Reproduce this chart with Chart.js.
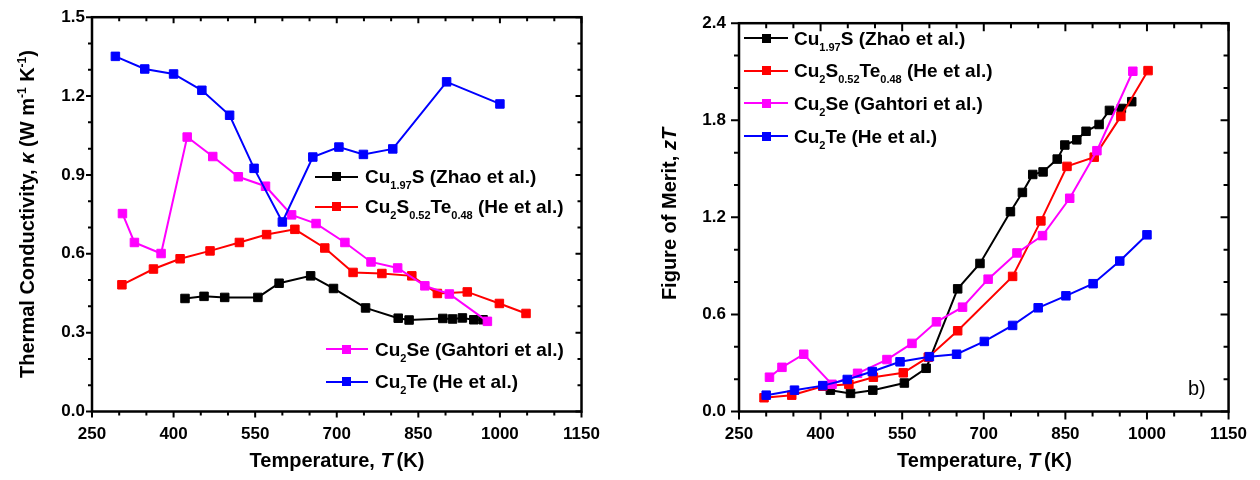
<!DOCTYPE html>
<html>
<head>
<meta charset="utf-8">
<script src="https://cdn.jsdelivr.net/npm/chart.js@4.4.0/dist/chart.umd.min.js"></script>
<style>
  body { margin: 0; background: #fff; }
  #page { position: relative; width: 1260px; height: 480px; overflow: hidden;
          font-family: 'Liberation Sans', Arial, sans-serif; color: #000; }
  .panel { position: absolute; top: 0; width: 630px; height: 480px; }
  .txt { position: absolute; white-space: nowrap; line-height: 1; font-weight: bold; }
  .sb { font-size: 11px; position: relative; top: 6px; }
  .sp { font-size: 12px; position: relative; top: -8px; }
  .tx { font-size: 20px; width: 400px; text-align: center; }
  .ty { font-size: 20px; text-align: center; transform: rotate(-90deg); }
  .leg { font-size: 19px; }
  .sym { position: absolute; height: 2px; }
  .sym b { position: absolute; width: 9px; height: 9px; left: 50%; top: 50%; margin: -4.5px 0 0 -4.5px; }
</style>
</head>
<body>
<div id="page">
  <div class="panel" style="left:0"><canvas id="kappaChart" width="630" height="480"></canvas></div>
  <div class="panel" style="left:630px"><canvas id="ztChart" width="630" height="480"></canvas></div>
</div>
<script>
// Panel (a): thermal conductivity vs temperature
const kTempCu197S = [421, 456, 494, 555, 594, 652, 694, 753, 813, 833, 895, 913, 931, 952, 969];
const kappaCu197S = [0.430, 0.438, 0.434, 0.434, 0.488, 0.516, 0.468, 0.394, 0.355, 0.348, 0.354, 0.352, 0.356, 0.349, 0.349];
const kTempCu2STe = [305, 363, 412, 467, 521, 571, 623, 678, 730, 783, 838, 885, 940, 999, 1048];
const kappaCu2STe = [0.482, 0.542, 0.581, 0.611, 0.643, 0.673, 0.693, 0.622, 0.529, 0.525, 0.516, 0.449, 0.455, 0.411, 0.373];
const kTempCu2Se = [306, 328, 377, 425, 472, 519, 569, 617, 662, 715, 763, 812, 862, 907, 977];
const kappaCu2Se = [0.753, 0.643, 0.601, 1.044, 0.970, 0.893, 0.857, 0.748, 0.715, 0.643, 0.569, 0.546, 0.478, 0.447, 0.343];
const kTempCu2Te = [293, 347, 400, 452, 503, 548, 600, 656, 704, 749, 803, 902, 1000];
const kappaCu2Te = [1.351, 1.303, 1.284, 1.222, 1.127, 0.925, 0.721, 0.968, 1.006, 0.978, 0.999, 1.254, 1.170];

// Panel (b): figure of merit zT vs temperature
const zTempCu197S = [418, 455, 496, 554, 594, 652, 693, 749, 771, 790, 809, 835, 849, 871, 888, 912, 931, 953, 972];
const ztCu197S = [0.132, 0.112, 0.132, 0.176, 0.267, 0.758, 0.915, 1.235, 1.354, 1.465, 1.481, 1.560, 1.647, 1.679, 1.732, 1.774, 1.861, 1.873, 1.915];
const zTempCu2STe = [296, 347, 404, 452, 497, 552, 598, 652, 753, 805, 853, 903, 952, 1002];
const ztCu2STe = [0.085, 0.101, 0.156, 0.168, 0.212, 0.239, 0.336, 0.499, 0.835, 1.178, 1.515, 1.572, 1.824, 2.107];
const zTempCu2Se = [306, 329, 369, 421, 468, 522, 568, 613, 661, 708, 761, 808, 858, 908, 974];
const ztCu2Se = [0.212, 0.273, 0.354, 0.168, 0.236, 0.321, 0.421, 0.554, 0.645, 0.818, 0.980, 1.087, 1.318, 1.612, 2.103];
const zTempCu2Te = [300, 352, 404, 449, 495, 546, 600, 650, 701, 753, 800, 851, 901, 950, 1000];
const ztCu2Te = [0.101, 0.132, 0.160, 0.198, 0.247, 0.307, 0.339, 0.354, 0.433, 0.532, 0.641, 0.715, 0.790, 0.930, 1.092];

const seriesNames = [
    'Cu<span class="sb">1.97</span>S (Zhao et al.)',
    'Cu<span class="sb">2</span>S<span class="sb">0.52</span>Te<span class="sb">0.48</span> (He et al.)',
    'Cu<span class="sb">2</span>Se (Gahtori et al.)',
    'Cu<span class="sb">2</span>Te (He et al.)'
];
const seriesColors = ['#000000', '#ff0000', '#ff00ff', '#0000ff'];

const FONT = "'Liberation Sans', Arial, sans-serif";

function points(xs, ys) {
    return xs.map((x, i) => ({ x: x, y: ys[i] }));
}

function makeDataset(i, xs, ys) {
    return {
        data: points(xs, ys),
        borderColor: seriesColors[i],
        backgroundColor: seriesColors[i],
        borderWidth: 2,
        pointStyle: 'rect',
        pointRadius: 6,
        pointHoverRadius: 6,
        pointBorderWidth: 1,
        showLine: true,
        order: 3 - i
    };
}

// Box frame, with outward ticks on bottom/left and inward ticks on top/right.
const frameTicks = {
    id: 'frameTicks',
    afterDatasetsDraw(chart, args, opts) {
        const ctx = chart.ctx;
        const a = chart.chartArea;
        const x = chart.scales.x, y = chart.scales.y;
        ctx.save();
        ctx.strokeStyle = '#000';
        ctx.lineWidth = 2;
        ctx.beginPath();
        x.ticks.forEach(t => {
            const px = x.getPixelForValue(t.value);
            const len = t.label !== '' ? opts.major : opts.minor;
            ctx.moveTo(px, a.bottom); ctx.lineTo(px, a.bottom + len);
            ctx.moveTo(px, a.top); ctx.lineTo(px, a.top + len);
        });
        y.ticks.forEach(t => {
            const py = y.getPixelForValue(t.value);
            const len = t.label !== '' ? opts.major : opts.minor;
            ctx.moveTo(a.left - len, py); ctx.lineTo(a.left, py);
            ctx.moveTo(a.right - len, py); ctx.lineTo(a.right, py);
        });
        ctx.stroke();
        ctx.lineWidth = 2.5;
        ctx.strokeRect(a.left, a.top, a.right - a.left, a.bottom - a.top);
        ctx.restore();
    }
};

function makeChart(id, datasets, yMax, yStep, yEvery, yWidth, yPad, rightPad, tickLen) {
    new Chart(document.getElementById(id), {
        type: 'scatter',
        data: { datasets: datasets },
        plugins: [frameTicks],
        options: {
            responsive: false,
            animation: false,
            events: [],
            layout: { padding: { left: 0, right: rightPad, top: 16, bottom: 0 } },
            scales: {
                x: {
                    type: 'linear',
                    min: 250,
                    max: 1150,
                    grid: { display: false, drawTicks: false },
                    border: { display: false },
                    afterFit: (s) => { s.height = 68.5; },
                    ticks: {
                        stepSize: 50,
                        autoSkip: false,
                        maxRotation: 0,
                        padding: 13,
                        color: '#000',
                        font: { family: FONT, size: 17, weight: 'bold' },
                        callback: (v) => ((v - 250) % 150 === 0 ? String(v) : '')
                    }
                },
                y: {
                    min: 0,
                    max: yMax,
                    grid: { display: false, drawTicks: false },
                    border: { display: false },
                    afterFit: (s) => { s.width = yWidth; },
                    ticks: {
                        stepSize: yStep,
                        autoSkip: false,
                        padding: yPad,
                        color: '#000',
                        font: { family: FONT, size: 17, weight: 'bold' },
                        callback: (v) => {
                            const k = Math.round(v * 10);
                            return k % yEvery === 0 ? (k / 10).toFixed(1) : '';
                        }
                    }
                }
            },
            plugins: {
                legend: { display: false },
                tooltip: { enabled: false },
                frameTicks: tickLen
            }
        }
    });
}

makeChart('kappaChart', [
    makeDataset(0, kTempCu197S, kappaCu197S),
    makeDataset(1, kTempCu2STe, kappaCu2STe),
    makeDataset(2, kTempCu2Se, kappaCu2Se),
    makeDataset(3, kTempCu2Te, kappaCu2Te)
], 1.5, 0.1, 3, 92, 7, 48.5, { major: 6, minor: 4 });

makeChart('ztChart', [
    makeDataset(0, zTempCu197S, ztCu197S),
    makeDataset(1, zTempCu2STe, ztCu2STe),
    makeDataset(2, zTempCu2Se, ztCu2Se),
    makeDataset(3, zTempCu2Te, ztCu2Te)
], 2.4, 0.2, 6, 109, 13, 30, { major: 8, minor: 5 });

// Text overlays: axis titles, legends, panel label
const page = document.getElementById('page');

function addText(html, cls, left, top, width) {
    const d = document.createElement('div');
    d.className = 'txt ' + cls;
    d.innerHTML = html;
    d.style.left = left + 'px';
    d.style.top = top + 'px';
    if (width) d.style.width = width + 'px';
    page.appendChild(d);
    return d;
}

addText('Temperature,&nbsp;<i>T</i>&thinsp;(K)', 'tx', 337 - 200, 450);
addText('Temperature,&nbsp;<i>T</i>&thinsp;(K)', 'tx', 984.5 - 200, 450);
addText('Thermal Conductivity, <i>κ</i> (W m<span class="sp">-1</span> K<span class="sp">-1</span>)', 'ty', 27 - 230, 213.5 - 10, 460);
addText('Figure of Merit, <i>zT</i>', 'ty', 669 - 150, 213.5 - 10, 300);
const lbl = addText('b)', 'tx', 1188, 378, 40);
lbl.style.fontWeight = 'normal';
lbl.style.textAlign = 'left';

const legendLeft = [
    { y: 176.7, x1: 315, x2: 358, tx: 365 },
    { y: 206.7, x1: 315, x2: 358, tx: 365 },
    { y: 349, x1: 325.7, x2: 368.3, tx: 375 },
    { y: 381.7, x1: 325.7, x2: 368.3, tx: 375 }
];
const legendRight = [
    { y: 38.3, x1: 744.3, x2: 788.3, tx: 794 },
    { y: 70.7, x1: 744.3, x2: 788.3, tx: 794 },
    { y: 103.3, x1: 744.3, x2: 788.3, tx: 794 },
    { y: 136, x1: 744.3, x2: 788.3, tx: 794 }
];

function addLegend(rows) {
    rows.forEach((r, i) => {
        const s = document.createElement('div');
        s.className = 'sym';
        s.style.left = r.x1 + 'px';
        s.style.top = (r.y - 1) + 'px';
        s.style.width = (r.x2 - r.x1) + 'px';
        s.style.background = seriesColors[i];
        const m = document.createElement('b');
        m.style.background = seriesColors[i];
        s.appendChild(m);
        page.appendChild(s);
        addText(seriesNames[i], 'leg', r.tx, r.y - 9.5);
    });
}
addLegend(legendLeft);
addLegend(legendRight);
</script>
</body>
</html>
